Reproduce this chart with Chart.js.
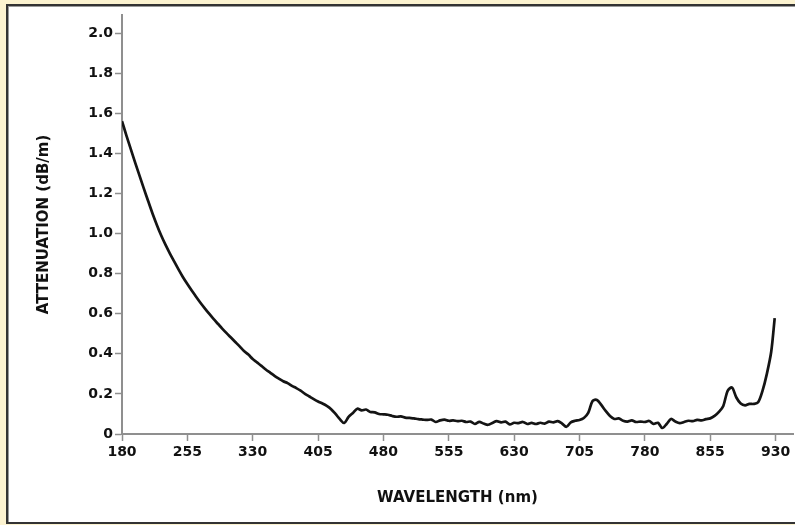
<!DOCTYPE html>
<html>
<head>
<meta charset="utf-8">
<script src="https://cdn.jsdelivr.net/npm/chart.js@4.4.0/dist/chart.umd.min.js"></script>
<style>
  html, body { margin: 0; padding: 0; background: #fcf3d0; }
  #frame {
    position: absolute; left: 6px; top: 4px; width: 800px; height: 516px;
    background: #fff; border: 2px solid #333; border-right: none;
    box-shadow: inset 1px 1px 0 #9a9a9a;
  }
  #wrap { position: absolute; left: 0; top: 0; width: 795px; height: 525px; }
</style>
</head>
<body>
<div id="frame"></div>
<div id="wrap"><canvas id="atten"></canvas></div>
<script>
// wavelength (nm)
const wavelengths = [
  180, 185, 190, 195, 200, 205, 210, 215, 220, 225, 230, 235, 240, 245, 250,
  255, 260, 265, 270, 275, 280, 285, 290, 295, 300, 305, 310, 315, 320, 325,
  330, 335, 340, 345, 350, 355, 360, 365, 370, 375, 380, 385, 390, 395, 400,
  405, 410, 415, 420, 425, 430, 435, 440, 445, 450, 455, 460, 465, 470, 475,
  480, 485, 490, 495, 500, 505, 510, 515, 520, 525, 530, 535, 540, 545, 550,
  555, 560, 565, 570, 575, 580, 585, 590, 595, 600, 605, 610, 615, 620, 625,
  630, 635, 640, 645, 650, 655, 660, 665, 670, 675, 680, 685, 690, 695, 700,
  705, 710, 715, 720, 725, 730, 735, 740, 745, 750, 755, 760, 765, 770, 775,
  780, 785, 790, 795, 800, 805, 810, 815, 820, 825, 830, 835, 840, 845, 850,
  855, 860, 865, 870, 875, 880, 885, 890, 895, 900, 905, 910, 915, 920, 925,
  929
];

// attenuation (dB/m)
const attenuation = [
  1.56, 1.49, 1.422, 1.355, 1.29, 1.225, 1.162, 1.10, 1.043, 0.99, 0.943, 0.90, 0.86, 0.82, 0.782,
  0.748, 0.716, 0.685, 0.655, 0.627, 0.600, 0.574, 0.550, 0.526, 0.503, 0.481, 0.459, 0.437, 0.414, 0.396,
  0.374, 0.357, 0.340, 0.322, 0.306, 0.290, 0.276, 0.263, 0.254, 0.240, 0.229, 0.216, 0.200, 0.187, 0.174,
  0.162, 0.152, 0.140, 0.124, 0.100, 0.074, 0.055, 0.085, 0.105, 0.126, 0.118, 0.122, 0.110, 0.108, 0.100,
  0.098, 0.096, 0.090, 0.086, 0.088, 0.082, 0.080, 0.078, 0.074, 0.072, 0.070, 0.072, 0.060, 0.068, 0.072,
  0.066, 0.068, 0.064, 0.066, 0.060, 0.062, 0.050, 0.060, 0.052, 0.046, 0.055, 0.064, 0.058, 0.062, 0.048,
  0.056, 0.054, 0.060, 0.050, 0.055, 0.050, 0.056, 0.052, 0.062, 0.058, 0.064, 0.052, 0.036, 0.058, 0.066,
  0.070, 0.080, 0.105, 0.165, 0.170, 0.145, 0.115, 0.090, 0.075, 0.078, 0.066, 0.062, 0.068, 0.060, 0.062,
  0.060, 0.065, 0.050, 0.056, 0.030, 0.050, 0.075, 0.062, 0.054, 0.060, 0.066, 0.064, 0.070, 0.068, 0.074,
  0.078, 0.090, 0.110, 0.140, 0.215, 0.232, 0.182, 0.152, 0.143, 0.150, 0.150, 0.158, 0.215, 0.300, 0.410,
  0.578
];

const xTicks = [180, 255, 330, 405, 480, 555, 630, 705, 780, 855, 930];
const yTicks = [0, 0.2, 0.4, 0.6, 0.8, 1.0, 1.2, 1.4, 1.6, 1.8, 2.0];

const axisGray = '#8f8f8f';
const tickFont = { family: 'DejaVu Sans', size: 14, weight: 'bold' };
const titleFont = { family: 'DejaVu Sans', size: 15, weight: 'bold' };

const points = wavelengths.map((w, i) => ({ x: w, y: attenuation[i] }));

const config = {
  type: 'line',
  data: {
    datasets: [{
      data: points,
      borderColor: '#141414',
      borderWidth: 2.7,
      pointRadius: 0,
      tension: 0.3,
      fill: false,
    }]
  },
  options: {
    responsive: false,
    animation: false,
    layout: { padding: { top: 15, right: 2, left: 0, bottom: 0 } },
    plugins: { legend: { display: false }, tooltip: { enabled: false } },
    scales: {
      x: {
        type: 'linear',
        min: 180,
        max: 950,
        afterBuildTicks: (scale) => { scale.ticks = xTicks.map(v => ({ value: v })); },
        afterFit: (scale) => { scale.height = 91; },
        border: { color: axisGray, width: 2 },
        grid: { drawOnChartArea: false, color: axisGray, tickLength: 7, tickWidth: 1.5 },
        ticks: { color: '#111', font: tickFont, padding: 3, maxRotation: 0, autoSkip: false },
        title: {
          display: true, text: 'WAVELENGTH (nm)', color: '#111', font: titleFont,
          padding: { top: 0, bottom: 18 }
        }
      },
      y: {
        min: 0,
        max: 2.09,
        afterBuildTicks: (scale) => { scale.ticks = yTicks.map(v => ({ value: v })); },
        afterFit: (scale) => { scale.width = 122; },
        border: { color: axisGray, width: 2 },
        grid: { drawOnChartArea: false, color: axisGray, tickLength: 7, tickWidth: 1.5 },
        ticks: {
          color: '#111', font: tickFont, padding: 2, autoSkip: false,
          callback: (v) => v === 0 ? '0' : v.toFixed(1)
        },
        title: {
          display: true, text: 'ATTENUATION (dB/m)', color: '#111', font: titleFont,
          padding: { top: 35, bottom: 0 }
        }
      }
    }
  }
};

const canvas = document.getElementById('atten');
canvas.width = 795;
canvas.height = 525;
const attenChart = new Chart(canvas, config);
</script>
</body>
</html>
